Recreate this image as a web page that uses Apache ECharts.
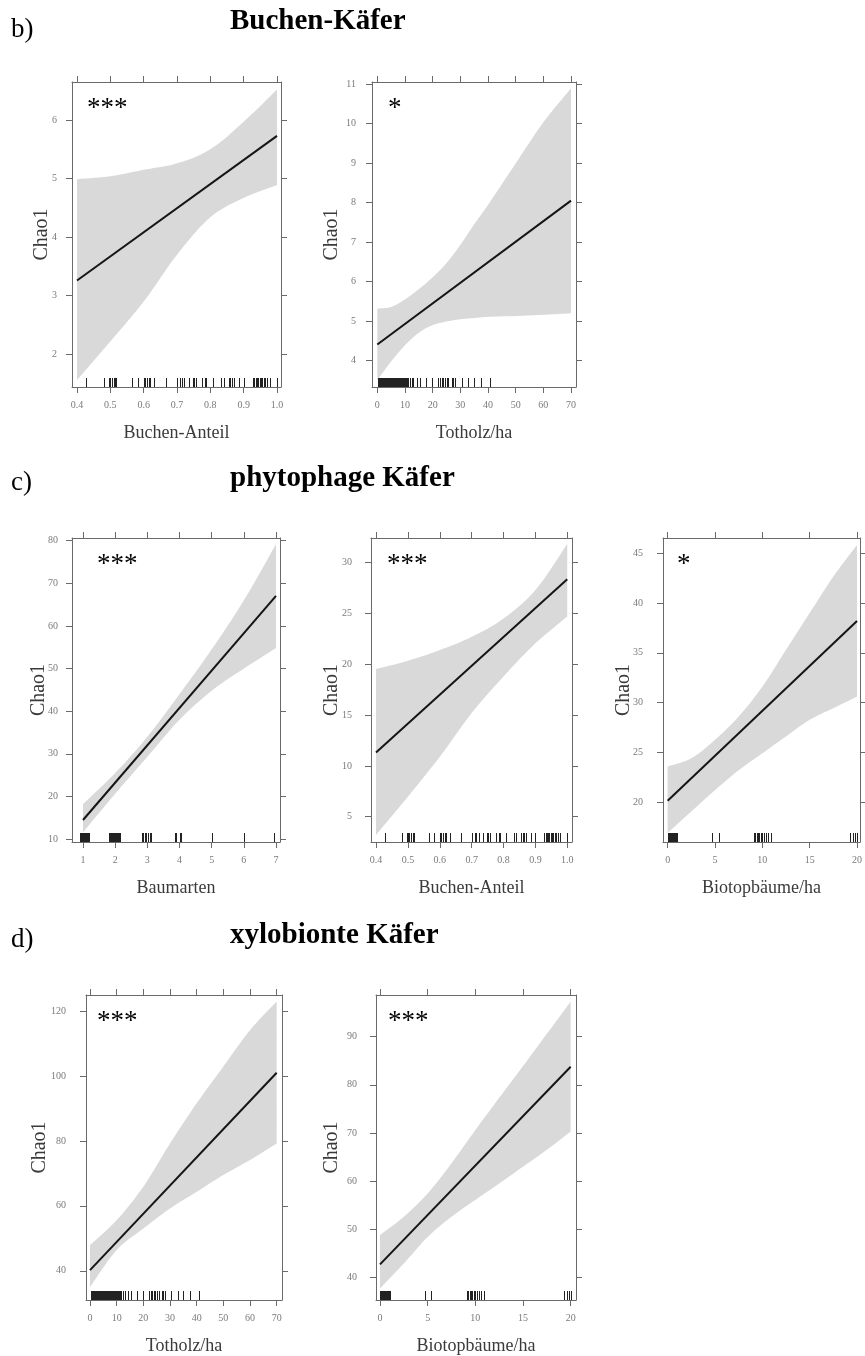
<!DOCTYPE html>
<html><head><meta charset="utf-8">
<script src="https://cdn.jsdelivr.net/npm/echarts@6/dist/echarts.min.js"></script>
<style>html,body{margin:0;padding:0;background:#fff}#c{width:865px;height:1356px}</style>
</head><body><div id="c"></div>
<script>
// ---------------- DATA ----------------
// rug (observed site values)
const rugBuchenAnteil = [0.427,0.48,0.496,0.50,0.505,0.51,0.515,0.518,0.565,0.582,0.60,0.605,0.61,0.615,0.62,0.632,0.667,0.70,0.71,0.715,0.722,0.735,0.748,0.752,0.757,0.775,0.785,0.788,0.808,0.832,0.84,0.855,0.86,0.865,0.872,0.885,0.90,0.928,0.932,0.936,0.94,0.944,0.948,0.952,0.956,0.96,0.965,0.97,0.978,1.0];
const rugTotholz = [0.4,0.7,1,1.3,1.6,1.9,2.2,2.5,2.8,3.1,3.4,3.7,4,4.3,4.6,4.9,5.2,5.5,5.8,6.1,6.4,6.7,7,7.3,7.6,7.9,8.2,8.5,8.8,9.1,9.4,9.7,10,10.3,10.6,10.9,11.2,11.8,12.4,13,14.2,15.4,17.6,19.7,22.1,22.7,23.3,23.9,24.5,25.1,25.7,26.9,27.5,28.1,30.5,32.9,35,37.4,40.8];
const rugBaumarten = [0.9,0.93,0.96,0.99,1.02,1.05,1.08,1.11,1.14,1.17,1.2,1.8,1.83,1.86,1.89,1.92,1.95,1.98,2.01,2.04,2.07,2.1,2.13,2.16,2.82,2.87,2.92,2.97,3.02,3.07,3.12,3.86,3.9,4.0,4.05,5.0,6.0,6.95];
const rugBiotop = [0,0.1,0.2,0.3,0.4,0.5,0.6,0.7,0.8,0.9,1.0,4.7,5.4,9.1,9.25,9.4,9.55,9.7,9.85,10,10.2,10.4,10.6,10.9,19.3,19.6,19.8,20];

// b1: Buchen-Kaefer ~ Buchen-Anteil
const b1X = [0.4,0.5,0.6,0.7,0.8,0.9,1.0];
const b1Upper = [4.99,5.04,5.15,5.26,5.50,5.97,6.52];
const b1Lower = [1.56,2.22,2.90,3.70,4.34,4.67,4.89];
const b1LineX = [0.4,1.0];
const b1LineY = [3.26,5.73];
const b1XTicks = [0.4,0.5,0.6,0.7,0.8,0.9,1.0];
const b1XTickLabels = ['0.4','0.5','0.6','0.7','0.8','0.9','1.0'];
const b1YTicks = [2,3,4,5,6];
const b1YTickLabels = ['2','3','4','5','6'];

// b2: Buchen-Kaefer ~ Totholz/ha
const b2X = [0,5,10,15,20,25,30,35,40,50,60,70];
const b2Upper = [5.32,5.36,5.55,5.81,6.11,6.47,6.93,7.45,7.94,8.99,10.03,10.89];
const b2Lower = [3.51,3.98,4.39,4.71,4.90,4.99,5.05,5.08,5.11,5.13,5.16,5.20];
const b2LineX = [0,70];
const b2LineY = [4.41,8.05];
const b2XTicks = [0,10,20,30,40,50,60,70];
const b2XTickLabels = ['0','10','20','30','40','50','60','70'];
const b2YTicks = [4,5,6,7,8,9,10,11];
const b2YTickLabels = ['4','5','6','7','8','9','10','11'];

// c1: phytophage Kaefer ~ Baumarten
const c1X = [1,2,3,4,5,6,7];
const c1Upper = [18.2,25.5,34.0,44.0,54.5,66.0,79.2];
const c1Lower = [11.6,20.6,29.3,38.0,44.8,50.0,54.8];
const c1LineX = [1,7];
const c1LineY = [14.46,67.04];
const c1XTicks = [1,2,3,4,5,6,7];
const c1XTickLabels = ['1','2','3','4','5','6','7'];
const c1YTicks = [10,20,30,40,50,60,70,80];
const c1YTickLabels = ['10','20','30','40','50','60','70','80'];

// c2: phytophage Kaefer ~ Buchen-Anteil
const c2X = [0.4,0.5,0.6,0.7,0.8,0.9,1.0];
const c2Upper = [19.53,20.35,21.4,22.7,24.5,27.3,31.84];
const c2Lower = [3.2,6.97,10.9,15.2,18.8,22.06,24.7];
const c2LineX = [0.4,1.0];
const c2LineY = [11.33,28.36];
const c2XTicks = [0.4,0.5,0.6,0.7,0.8,0.9,1.0];
const c2XTickLabels = ['0.4','0.5','0.6','0.7','0.8','0.9','1.0'];
const c2YTicks = [5,10,15,20,25,30];
const c2YTickLabels = ['5','10','15','20','25','30'];

// c3: phytophage Kaefer ~ Biotopbaeume/ha
const c3X = [0,2.5,5,7.5,10,12.5,15,17.5,20];
const c3Upper = [23.58,24.4,26.26,28.6,31.6,35.3,39.0,42.66,45.84];
const c3Lower = [16.9,19.06,21.2,23.2,24.9,26.6,28.27,29.44,30.6];
const c3LineX = [0,20];
const c3LineY = [20.13,38.2];
const c3XTicks = [0,5,10,15,20];
const c3XTickLabels = ['0','5','10','15','20'];
const c3YTicks = [20,25,30,35,40,45];
const c3YTickLabels = ['20','25','30','35','40','45'];

// d1: xylobionte Kaefer ~ Totholz/ha
const d1X = [0,10,20,30,40,50,60,70];
const d1Upper = [47.9,55.6,65.9,79.2,91.6,102.9,114.1,122.9];
const d1Lower = [35.0,46.4,53.0,59.2,64.3,69.5,74.1,79.2];
const d1LineX = [0,70];
const d1LineY = [40.2,101.0];
const d1XTicks = [0,10,20,30,40,50,60,70];
const d1XTickLabels = ['0','10','20','30','40','50','60','70'];
const d1YTicks = [40,60,80,100,120];
const d1YTickLabels = ['40','60','80','100','120'];

// d2: xylobionte Kaefer ~ Biotopbaeume/ha
const d2X = [0,2.5,5,7.5,10,12.5,15,17.5,20];
const d2Upper = [48.8,52.6,57.45,63.7,70.6,77.3,83.9,90.6,97.3];
const d2Lower = [37.7,42.9,48.4,52.6,56.1,59.5,63.0,66.5,70.3];
const d2LineX = [0,20];
const d2LineY = [42.7,83.77];
const d2XTicks = [0,5,10,15,20];
const d2XTickLabels = ['0','5','10','15','20'];
const d2YTicks = [40,50,60,70,80,90];
const d2YTickLabels = ['40','50','60','70','80','90'];

const rowLetters = ['b)','c)','d)'];
const rowTitles = ['Buchen-Käfer','phytophage Käfer','xylobionte Käfer'];

// ---------------- LAYOUT ----------------
const SERIF = '"Liberation Serif","Times New Roman",serif';
const panels = [
  {g:[72,82,209,305],   xr:[0.385,1.012], yr:[1.442,6.649], xt:b1XTicks, xl:b1XTickLabels, yt:b1YTicks, yl:b1YTickLabels, name:'Buchen-Anteil', bx:b1X, up:b1Upper, lo:b1Lower, lx:b1LineX, ly:b1LineY, rug:rugBuchenAnteil, sig:'***', so:[15,27], lm:15, ng:20},
  {g:[372,82,204,305],  xr:[-1.92,71.8], yr:[3.335,11.05], xt:b2XTicks, xl:b2XTickLabels, yt:b2YTicks, yl:b2YTickLabels, name:'Totholz/ha', bx:b2X, up:b2Upper, lo:b2Lower, lx:b2LineX, ly:b2LineY, rug:rugTotholz, sig:'*', so:[16,27], lm:16, ng:30},
  {g:[72,538,208,304],  xr:[0.658,7.124], yr:[9.30,80.63], xt:c1XTicks, xl:c1XTickLabels, yt:c1YTicks, yl:c1YTickLabels, name:'Baumarten', bx:c1X, up:c1Upper, lo:c1Lower, lx:c1LineX, ly:c1LineY, rug:rugBaumarten, sig:'***', so:[25,27], lm:14, ng:23},
  {g:[371,538,201,304], xr:[0.3843,1.0149], yr:[2.51,32.43], xt:c2XTicks, xl:c2XTickLabels, yt:c2YTicks, yl:c2YTickLabels, name:'Buchen-Anteil', bx:c2X, up:c2Upper, lo:c2Lower, lx:c2LineX, ly:c2LineY, rug:rugBuchenAnteil, sig:'***', so:[16,27], lm:19, ng:29},
  {g:[663,538,200,304], xr:[-0.49,20.31], yr:[15.99,46.54], xt:c3XTicks, xl:c3XTickLabels, yt:c3YTicks, yl:c3YTickLabels, name:'Biotopbäume/ha', bx:c3X, up:c3Upper, lo:c3Lower, lx:c3LineX, ly:c3LineY, rug:rugBiotop, sig:'*', so:[14,27], lm:20, ng:29},
  {g:[86,995,196,305],  xr:[-1.5,72.0], yr:[31.0,124.93], xt:d1XTicks, xl:d1XTickLabels, yt:d1YTicks, yl:d1YTickLabels, name:'Totholz/ha', bx:d1X, up:d1Upper, lo:d1Lower, lx:d1LineX, ly:d1LineY, rug:rugTotholz, sig:'***', so:[11,27], lm:20, ng:36},
  {g:[376,995,200,305], xr:[-0.42,20.56], yr:[35.30,98.67], xt:d2XTicks, xl:d2XTickLabels, yt:d2YTicks, yl:d2YTickLabels, name:'Biotopbäume/ha', bx:d2X, up:d2Upper, lo:d2Lower, lx:d2LineX, ly:d2LineY, rug:rugBiotop, sig:'***', so:[12,27], lm:19, ng:34}
];
const rowY = [{l:30,t:22},{l:483,t:479},{l:940,t:936}];

const FRAME = '#6a6a6a', TICKLAB = '#7a7a7a', NAMEC = '#3a3a3a', BAND = '#d9d9d9', LINE = '#151515', RUG = '#222';

function labelFor(ticks, labels){
  return v => { const i = ticks.findIndex(t => Math.abs(t - v) < 1e-9); return i < 0 ? '' : labels[i]; };
}
// Catmull-Rom smoothing of pixel points (rendering only)
function smoothPx(pts, steps){
  const out = [];
  const n = pts.length;
  for (let i = 0; i < n - 1; i++){
    const p0 = pts[Math.max(i-1,0)], p1 = pts[i], p2 = pts[i+1], p3 = pts[Math.min(i+2,n-1)];
    for (let s = 0; s < steps; s++){
      const t = s/steps, t2 = t*t, t3 = t2*t;
      const f = (a,b,c,d) => 0.5*((2*b) + (-a+c)*t + (2*a-5*b+4*c-d)*t2 + (-a+3*b-3*c+d)*t3);
      out.push([f(p0[0],p1[0],p2[0],p3[0]), f(p0[1],p1[1],p2[1],p3[1])]);
    }
  }
  out.push(pts[n-1]);
  return out;
}

const grid = [], xAxis = [], yAxis = [], series = [], graphic = [];
panels.forEach((p, i) => {
  grid.push({left:p.g[0], top:p.g[1], width:p.g[2], height:p.g[3], containLabel:false});
  const line = {show:true, onZero:false, lineStyle:{color:FRAME, width:1}};
  const tick = (vals) => ({show:true, inside:false, length:6, customValues:vals, lineStyle:{color:FRAME, width:1}});
  xAxis.push({gridIndex:i, type:'value', position:'bottom', min:p.xr[0], max:p.xr[1],
    axisLine:line, axisTick:tick(p.xt),
    axisLabel:{show:true, customValues:p.xt, formatter:labelFor(p.xt,p.xl), margin:13, color:TICKLAB, fontSize:10, fontFamily:SERIF},
    splitLine:{show:false}, name:p.name, nameLocation:'middle', nameGap:37, nameMoveOverlap:false,
    nameTextStyle:{color:NAMEC, fontSize:18, fontFamily:SERIF}});
  xAxis.push({gridIndex:i, type:'value', position:'top', min:p.xr[0], max:p.xr[1],
    axisLine:line, axisTick:tick(p.xt), axisLabel:{show:false}, splitLine:{show:false}});
  yAxis.push({gridIndex:i, type:'value', position:'left', min:p.yr[0], max:p.yr[1],
    axisLine:line, axisTick:tick(p.yt),
    axisLabel:{show:true, customValues:p.yt, formatter:labelFor(p.yt,p.yl), margin:p.lm, color:TICKLAB, fontSize:10, fontFamily:SERIF},
    splitLine:{show:false}, name:'Chao1', nameLocation:'middle', nameGap:p.ng, nameRotate:90, nameMoveOverlap:false,
    nameTextStyle:{color:NAMEC, fontSize:20, fontFamily:SERIF}});
  yAxis.push({gridIndex:i, type:'value', position:'right', min:p.yr[0], max:p.yr[1],
    axisLine:line, axisTick:tick(p.yt), axisLabel:{show:false}, splitLine:{show:false}});
  const xi = i*2, yi = i*2;
  // confidence band polygon
  series.push({type:'custom', xAxisIndex:xi, yAxisIndex:yi, z:1, silent:true, clip:true,
    data:[[p.bx[0], p.lo[0]]],
    renderItem:(params, api) => {
      const up = p.bx.map((x,k)=>api.coord([x,p.up[k]]));
      const lo = p.bx.map((x,k)=>api.coord([x,p.lo[k]]));
      const pts = smoothPx(up, 10).concat(smoothPx(lo, 10).reverse());
      return {type:'polygon', shape:{points:pts}, style:{fill:BAND, stroke:null}};
    }});
  // fitted line
  series.push({type:'line', xAxisIndex:xi, yAxisIndex:yi, symbol:'none', lineStyle:{color:LINE, width:2},
    data:p.lx.map((x,k)=>[x,p.ly[k]]), z:3, silent:true});
  // rug
  series.push({type:'custom', xAxisIndex:xi, yAxisIndex:yi, z:4, silent:true,
    data:p.rug.map(v=>[v,p.yr[0]]),
    renderItem:(params, api) => {
      const c = api.coord([api.value(0), api.value(1)]);
      const x = Math.round(c[0]) + 0.5;
      return {type:'line', shape:{x1:x, y1:c[1], x2:x, y2:c[1]-9}, style:{stroke:RUG, lineWidth:1}};
    }});
  graphic.push({type:'text', x:p.g[0]+p.so[0], y:p.g[1]+p.so[1], z:10,
    style:{text:p.sig, fontSize:27, fontFamily:SERIF, fill:'#000', verticalAlign:'middle'}});
});
rowLetters.forEach((t,r)=>{
  graphic.push({type:'text', x:11, y:rowY[r].l, style:{text:t, fontSize:27, fontFamily:SERIF, fill:'#000', verticalAlign:'middle'}});
  graphic.push({type:'text', x:230, y:rowY[r].t, style:{text:rowTitles[r], fontSize:29, fontWeight:'bold', fontFamily:SERIF, fill:'#000', verticalAlign:'middle'}});
});

const chart = echarts.init(document.getElementById('c'), null, {renderer:'canvas'});
chart.setOption({animation:false, backgroundColor:'#fff', grid, xAxis, yAxis, series, graphic});
</script></body></html>
